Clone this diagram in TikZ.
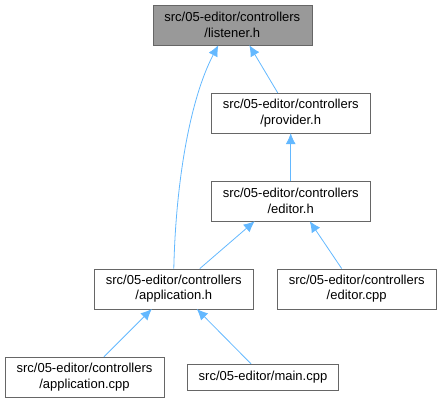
\documentclass[tikz,border=0pt]{standalone}
\usepackage{fontspec}
\setmainfont{Liberation Sans}
\usepackage{tikz}
\usetikzlibrary{arrows.meta,positioning}
\definecolor{edgeblue}{HTML}{63B8FF}
\definecolor{boxline}{HTML}{666666}
\definecolor{current}{HTML}{999999}

\tikzset{
  file/.style={draw=boxline, fill=white, align=center, inner sep=0pt,
    minimum width=159pt, minimum height=40pt,
    font=\fontsize{13}{15.6}\selectfont},
  dep/.style={draw=edgeblue, line width=0.8pt, -{Latex[length=11pt,width=10pt]}}
}

\begin{document}
\begin{tikzpicture}[x=1pt,y=-1pt]
  \useasboundingbox (0,0) rectangle (441,403);
  % files
  \node[file, fill=current] (listener) at (232.3,25) {src/05-editor/controllers\\/listener.h};
  \node[file] (provider) at (290.7,113) {src/05-editor/controllers\\/provider.h};
  \node[file] (editor) at (290.7,201) {src/05-editor/controllers\\/editor.h};
  \node[file] (apph) at (173.8,288.8) {src/05-editor/controllers\\/application.h};
  \node[file] (editorcpp) at (356.7,288.8) {src/05-editor/controllers\\/editor.cpp};
  \node[file] (appcpp) at (84.5,377) {src/05-editor/controllers\\/application.cpp};
  \node[file, minimum width=151pt, minimum height=26pt] (maincpp) at (263,377) {src/05-editor/main.cpp};
  % include edges
  \draw[dep] (apph.north) .. controls +(2,-88) and +(-28,53) .. ([xshift=-14pt]listener.south);
  \draw[dep] ([xshift=-13pt]provider.north) -- ([xshift=17pt]listener.south);
  \draw[dep] (editor.north) -- (provider.south);
  \draw[dep] ([xshift=26pt]apph.north) -- ([xshift=-36pt]editor.south);
  \draw[dep] ([xshift=-15pt]editorcpp.north) -- ([xshift=19pt]editor.south);
  \draw[dep] ([xshift=19.5pt]appcpp.north) -- ([xshift=-22pt]apph.south);
  \draw[dep] ([xshift=-12pt]maincpp.north) -- ([xshift=23pt]apph.south);
\end{tikzpicture}
\end{document}
